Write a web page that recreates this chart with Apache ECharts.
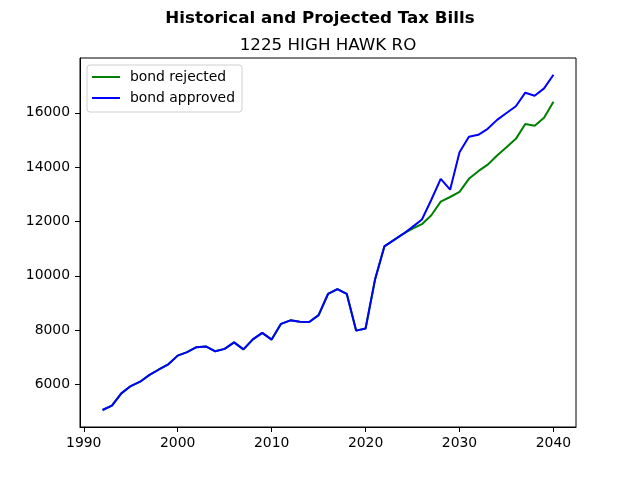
<!DOCTYPE html>
<html>
<head>
<meta charset="utf-8">
<script src="https://cdn.jsdelivr.net/npm/echarts@6/dist/echarts.min.js"></script>
<style>
	html, body { margin: 0; padding: 0; background: #fff; }
	#chart { width: 640px; height: 480px; }
</style>
</head>
<body>
<div id="chart"></div>
<script>
'use strict';

/* years on the x axis */
var years = [
	1992, 1993, 1994, 1995, 1996, 1997, 1998, 1999, 2000, 2001,
	2002, 2003, 2004, 2005, 2006, 2007, 2008, 2009, 2010, 2011,
	2012, 2013, 2014, 2015, 2016, 2017, 2018, 2019, 2020, 2021,
	2022, 2023, 2024, 2025, 2026, 2027, 2028, 2029, 2030, 2031,
	2032, 2033, 2034, 2035, 2036, 2037, 2038, 2039, 2040
];

/* tax bill if the bond is rejected */
var bondRejected = [
	5060, 5220, 5670, 5940, 6100, 6350, 6550, 6740, 7060, 7190,
	7370, 7400, 7220, 7310, 7550, 7290, 7660, 7900, 7650, 8230,
	8360, 8310, 8300, 8550, 9330, 9510, 9330, 7980, 8060, 9850,
	11080, 11310, 11540, 11740, 11900, 12230, 12730, 12900, 13090, 13570,
	13850, 14090, 14430, 14730, 15040, 15590, 15520, 15820, 16410
];

/* tax bill if the bond is approved */
var bondApproved = [
	5060, 5220, 5670, 5940, 6100, 6350, 6550, 6740, 7060, 7190,
	7370, 7400, 7220, 7310, 7550, 7290, 7660, 7900, 7650, 8230,
	8360, 8310, 8300, 8550, 9330, 9510, 9330, 7980, 8060, 9850,
	11080, 11310, 11540, 11800, 12070, 12800, 13570, 13170, 14550, 15120,
	15190, 15410, 15740, 15990, 16240, 16740, 16630, 16900, 17400
];

var xTicks = [1990, 2000, 2010, 2020, 2030, 2040];
var yTicks = [6000, 8000, 10000, 12000, 14000, 16000];

var seriesNames = ['bond rejected', 'bond approved'];

function pairs(xs, ys){
	return xs.map(function(x, i){ return [x, ys[i]]; });
}

function plain(v){ return String(v); }

var font = 'DejaVu Sans';
var black = '#000';

var option = {
	backgroundColor: '#fff',
	animation: false,
	textStyle: { fontFamily: font },
	title: [
		{
			text: 'Historical and Projected Tax Bills',
			left: 320, top: 10, textAlign: 'center', padding: 0,
			textStyle: { fontFamily: font, fontSize: 16.7, fontWeight: 'bold', color: black }
		},
		{
			text: '1225 HIGH HAWK RO',
			left: 328, top: 37, textAlign: 'center', padding: 0,
			textStyle: { fontFamily: font, fontSize: 16.7, fontWeight: 'normal', color: black }
		}
	],
	legend: {
		orient: 'vertical',
		left: 87, top: 65,
		padding: [5, 7, 7, 5],
		itemGap: 7,
		itemWidth: 28,
		itemHeight: 2,
		icon: 'rect',
		backgroundColor: '#fff',
		borderColor: '#d0d0d0',
		borderWidth: 1,
		borderRadius: 3,
		textStyle: { fontFamily: font, fontSize: 13.9, color: black, padding: [0, 0, 0, 5] },
		data: seriesNames
	},
	grid: {
		left: 80, right: 64, top: 58, bottom: 53,
		show: true, borderColor: black, borderWidth: 1, backgroundColor: 'transparent'
	},
	xAxis: {
		type: 'value',
		min: 1989.6, max: 2042.4,
		axisLine: { show: true, lineStyle: { color: black, width: 1 } },
		axisTick: { show: true, length: 5, customValues: xTicks, lineStyle: { color: black } },
		axisLabel: { customValues: xTicks, formatter: plain, color: black, fontSize: 13.9, fontFamily: font, margin: 9 },
		splitLine: { show: false }
	},
	yAxis: {
		type: 'value',
		min: 4433, max: 18017,
		axisLine: { show: true, lineStyle: { color: black, width: 1 } },
		axisTick: { show: true, length: 5, customValues: yTicks, lineStyle: { color: black } },
		axisLabel: { customValues: yTicks, formatter: plain, color: black, fontSize: 13.9, fontFamily: font, margin: 10 },
		splitLine: { show: false }
	},
	series: [
		{
			name: seriesNames[0], type: 'line', symbol: 'none',
			lineStyle: { color: '#008000', width: 2 }, itemStyle: { color: '#008000' },
			data: pairs(years, bondRejected), z: 2
		},
		{
			name: seriesNames[1], type: 'line', symbol: 'none',
			lineStyle: { color: '#0000ff', width: 2 }, itemStyle: { color: '#0000ff' },
			data: pairs(years, bondApproved), z: 3
		}
	]
};

echarts.init(document.getElementById('chart')).setOption(option);
</script>
</body>
</html>
